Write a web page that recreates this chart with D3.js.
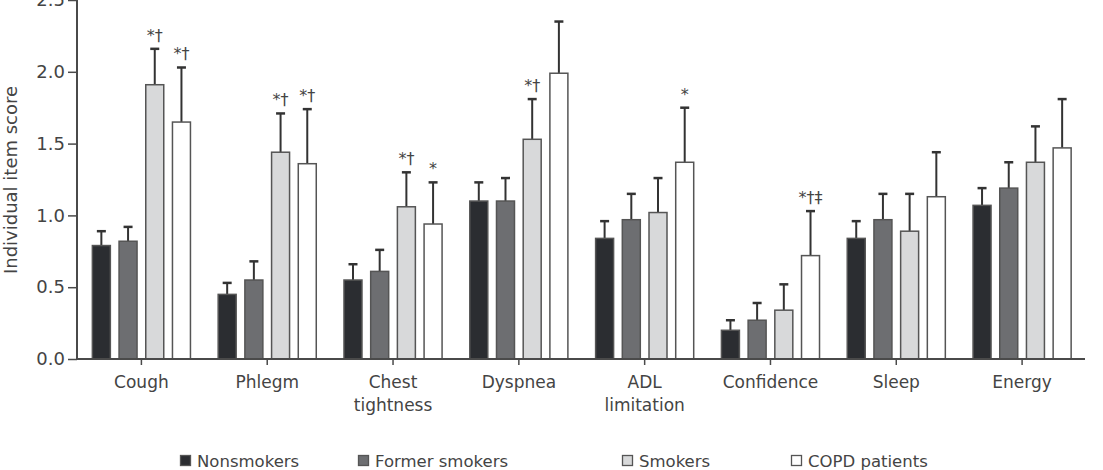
<!DOCTYPE html>
<html><head><meta charset="utf-8">
<script src="https://cdn.jsdelivr.net/npm/d3@7"></script>
<style>
html,body{margin:0;padding:0;background:#fff;}
svg{display:block;font-family:"DejaVu Sans",sans-serif;}
</style></head>
<body>
<svg id="chart" width="1103" height="470"></svg>
<script>
const categories = ["Cough","Phlegm","Chest\ntightness","Dyspnea","ADL\nlimitation","Confidence","Sleep","Energy"];
const series = ["Nonsmokers","Former smokers","Smokers","COPD patients"];
const seriesColors = ["#2b2d31","#6d6e71","#d8d9da","#ffffff"];
const nonsmokers    = [0.79,0.45,0.55,1.10,0.84,0.20,0.84,1.07];
const formerSmokers = [0.82,0.55,0.61,1.10,0.97,0.27,0.97,1.19];
const smokers       = [1.91,1.44,1.06,1.53,1.02,0.34,0.89,1.37];
const copd          = [1.65,1.36,0.94,1.99,1.37,0.72,1.13,1.47];
const nonsmokersErr    = [0.89,0.53,0.66,1.23,0.96,0.27,0.96,1.19];
const formerSmokersErr = [0.92,0.68,0.76,1.26,1.15,0.39,1.15,1.37];
const smokersErr       = [2.16,1.71,1.30,1.81,1.26,0.52,1.15,1.62];
const copdErr          = [2.03,1.74,1.23,2.35,1.75,1.03,1.44,1.81];
const smokersNote = ["*†","*†","*†","*†","","","",""];
const copdNote    = ["*†","*†","*","","*","*†‡","",""];
const yTicks = [0,0.5,1.0,1.5,2.0,2.5];

const values = [nonsmokers, formerSmokers, smokers, copd];
const errs = [nonsmokersErr, formerSmokersErr, smokersErr, copdErr];
const notes = [null, null, smokersNote, copdNote];

const svg = d3.select("#chart");
const x0 = 77, x1 = 1085, yBase = 359;
const y = d3.scaleLinear().domain([0,2.5]).range([yBase, 0]);
const xc = d3.scaleBand().domain(categories).range([78.5, x1]).padding(0);
const xs = d3.scaleBand().domain(series).range([-57.75, 57.75]).padding(0.326);

const axisColor = "#4a4a4a";
const textColor = "#444";

const rows = [];
categories.forEach((c, i) => {
  series.forEach((s, j) => {
    rows.push({c, s, j, v: values[j][i], e: errs[j][i], note: notes[j] ? notes[j][i] : ""});
  });
});
const g = svg.append("g");
const cx = d => xc(d.c) + xc.bandwidth()/2 + xs(d.s);
g.selectAll("line.err").data(rows).join("line")
  .attr("x1", d => cx(d) + xs.bandwidth()/2).attr("x2", d => cx(d) + xs.bandwidth()/2)
  .attr("y1", d => y(d.v)).attr("y2", d => y(d.e))
  .attr("stroke", "#333").attr("stroke-width", 2);
g.selectAll("line.cap").data(rows).join("line")
  .attr("x1", d => cx(d) + xs.bandwidth()/2 - 4.5).attr("x2", d => cx(d) + xs.bandwidth()/2 + 4.5)
  .attr("y1", d => y(d.e)).attr("y2", d => y(d.e))
  .attr("stroke", "#333").attr("stroke-width", 2.5);
g.selectAll("rect.bar").data(rows).join("rect")
  .attr("x", d => cx(d)).attr("width", xs.bandwidth())
  .attr("y", d => y(d.v)).attr("height", d => yBase - y(d.v))
  .attr("fill", d => seriesColors[d.j]).attr("stroke", "#555").attr("stroke-width", 1.5);
g.selectAll("text.note").data(rows.filter(d => d.note)).join("text")
  .attr("x", d => cx(d) + xs.bandwidth()/2).attr("y", d => y(d.e) - 8)
  .attr("text-anchor", "middle").attr("font-size", 16).attr("fill", "#444")
  .text(d => d.note);

const yAxis = svg.append("g").attr("transform", `translate(${x0},0)`)
  .call(d3.axisLeft(y).tickValues(yTicks).tickFormat(d3.format(".1f")).tickSize(9).tickPadding(3));
yAxis.select(".domain").attr("stroke", axisColor).attr("stroke-width", 2).attr("d", `M0,0V${yBase}`);
yAxis.selectAll(".tick line").attr("stroke", axisColor).attr("stroke-width", 1.5);
yAxis.selectAll(".tick text").attr("font-size", 18).attr("fill", textColor).attr("font-family", "DejaVu Sans");

const xAxis = svg.append("g").attr("transform", `translate(0,${yBase})`)
  .call(d3.axisBottom(xc).tickSize(6).tickFormat(""));
xAxis.select(".domain").attr("stroke", axisColor).attr("stroke-width", 2).attr("d", `M${x0},0H${x1}`);
xAxis.selectAll(".tick line").attr("stroke", axisColor).attr("stroke-width", 1.5);
xAxis.selectAll(".tick").each(function(d){
  const lines = d.split("\n");
  const t = d3.select(this).append("text").attr("text-anchor","middle")
    .attr("font-size", 17).attr("fill", textColor).attr("font-family","DejaVu Sans");
  lines.forEach((l, k) => t.append("tspan").attr("x", 0).attr("y", 29 + k*23).text(l));
});

svg.append("text").attr("transform", "translate(17,180) rotate(-90)")
  .attr("text-anchor", "middle").attr("font-size", 18).attr("fill", textColor)
  .text("Individual item score");

const legX = [180, 358, 622, 791];
const lg = svg.append("g");
series.forEach((s, j) => {
  lg.append("rect").attr("x", legX[j] + 0.5).attr("y", 455.5).attr("width", 10).attr("height", 10)
    .attr("fill", seriesColors[j]).attr("stroke", "#555").attr("stroke-width", 1.3);
  lg.append("text").attr("x", legX[j] + 17).attr("y", 467).attr("font-size", 16.5)
    .attr("fill", textColor).text(s);
});
</script>
</body></html>
